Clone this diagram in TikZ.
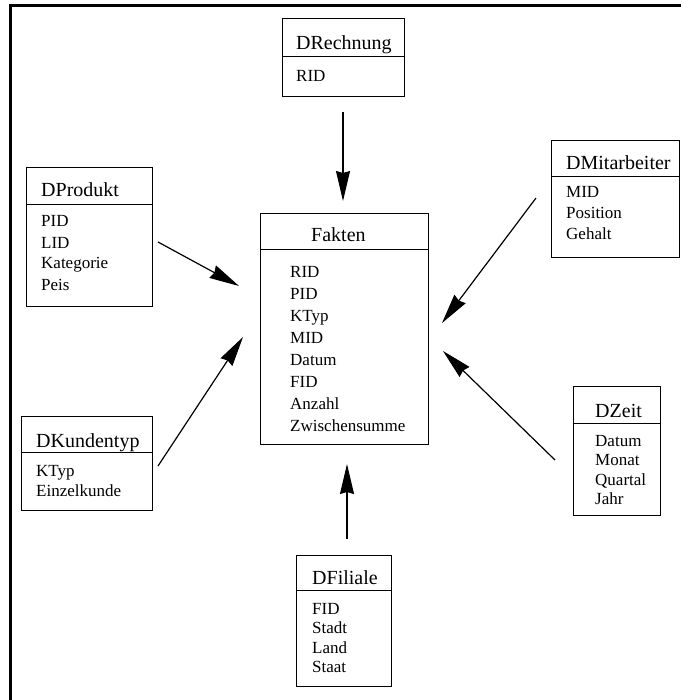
\documentclass[tikz,border=0pt]{standalone}
\usepackage{fontspec}
\setmainfont{Liberation Serif}
\usetikzlibrary{arrows.meta}
\tikzset{
  erbox/.style={draw, line width=0.9pt, inner sep=0pt, anchor=north west},
  divline/.style={line width=0.9pt},
  ttl/.style={font=\fontsize{20}{24}\selectfont, inner sep=0pt, anchor=base west},
  fld/.style={font=\fontsize{17}{20}\selectfont, inner sep=0pt, anchor=base west},
  link/.style={line width=1.2pt, -{Stealth[length=30pt,width=14pt,inset=2pt]}},
  frame/.style={line width=3pt}
}
% name, L, T, R, B, divider y
\newcommand\ERbox[6]{%
  \node[erbox, minimum width={#4-#2}, minimum height={#5-#3}] (#1) at (#2,#3) {};
  \draw[divline] (#2,#6) -- (#4,#6);}
\begin{document}
\begin{tikzpicture}[x=1pt,y=-1pt]
\useasboundingbox (0,0) rectangle (681,700);
\coordinate (fa) at (10,700);
\coordinate (fb) at (10,5.5);
\coordinate (fc) at (681,5.5);
\draw[frame] (fa) -- (fb) -- (fc);

% DRechnung
\ERbox{rech}{282}{18}{404}{96}{56}
\node[ttl] (rech-t) at (296,50) {DRechnung};
\node[fld] (rech-0) at (296,82) {RID};

% DProdukt
\ERbox{prod}{26}{167}{152}{306}{204}
\node[ttl] (prod-t) at (41,197) {DProdukt};
\foreach \t [count=\i from 0] in {PID,LID,Kategorie,Peis}
  \node[fld] (prod-\i) at (41,{227+21*\i}) {\t};

% Fakten
\ERbox{fak}{260}{213}{428}{444}{249}
\node[ttl] (fak-t) at (311,242) {Fakten};
\foreach \t [count=\i from 0] in {RID,PID,KTyp,MID,Datum,FID,Anzahl,Zwischensumme}
  \node[fld] (fak-\i) at (290,{277+22*\i}) {\t};

% DMitarbeiter
\ERbox{mit}{551}{140}{679}{257}{176}
\node[ttl] (mit-t) at (566,170) {DMitarbeiter};
\foreach \t [count=\i from 0] in {MID,Position,Gehalt}
  \node[fld] (mit-\i) at (566,{198+21*\i}) {\t};

% DKundentyp
\ERbox{kund}{21}{416}{152}{510}{452}
\node[ttl] (kund-t) at (36,447) {DKundentyp};
\foreach \t [count=\i from 0] in {KTyp,Einzelkunde}
  \node[fld] (kund-\i) at (36,{476+20*\i}) {\t};

% DZeit
\ERbox{zeit}{573}{386}{660}{515}{423}
\node[ttl] (zeit-t) at (595,417) {DZeit};
\foreach \t [count=\i from 0] in {Datum,Monat,Quartal,Jahr}
  \node[fld] (zeit-\i) at (595,{446+19.5*\i}) {\t};

% DFiliale
\ERbox{fil}{296}{555}{391}{686}{590}
\node[ttl] (fil-t) at (312,584) {DFiliale};
\foreach \t [count=\i from 0] in {FID,Stadt,Land,Staat}
  \node[fld] (fil-\i) at (312,{614+19.5*\i}) {\t};

% connectors
\coordinate (a1s) at (343,112);  \coordinate (a1e) at (343,201);
\coordinate (a2s) at (158,242);  \coordinate (a2e) at (239,286);
\coordinate (a3s) at (536,198);  \coordinate (a3e) at (442,323);
\coordinate (a4s) at (158,466);  \coordinate (a4e) at (243,337);
\coordinate (a5s) at (555,460);  \coordinate (a5e) at (443,351);
\coordinate (a6s) at (347,539);  \coordinate (a6e) at (347,464);
\foreach \k in {1,...,6}
  \draw[link] (a\k s) -- (a\k e);
\end{tikzpicture}
\end{document}
